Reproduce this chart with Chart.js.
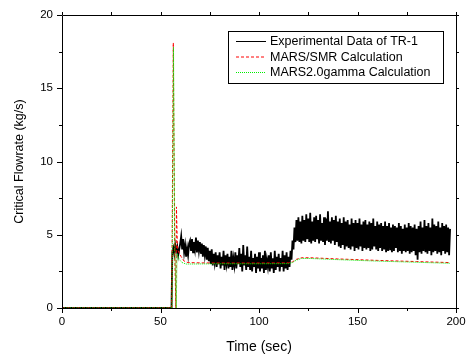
<!DOCTYPE html>
<html>
<head>
<meta charset="utf-8">
<title>Critical Flowrate</title>
<script src="https://cdn.jsdelivr.net/npm/chart.js"></script>
<style>
  body { margin: 0; background: #fff; }
  #wrap { width: 467px; height: 358px; }
</style>
</head>
<body>
<div id="wrap"><canvas id="grafico" width="467" height="358"></canvas></div>
<script>
// assi
var xTicks = [0, 50, 100, 150, 200];
var xMinor = [25, 75, 125, 175];
var yTicks = [0, 5, 10, 15, 20];
var yMinor = [2.5, 7.5, 12.5, 17.5];
var seriesNames = ["Experimental Data of TR-1", "MARS/SMR Calculation", "MARS2.0gamma Calculation"];

// dati sperimentali: zero prima dell'apertura, poi un campione ogni 0.5 s
var expLeadTime = [0, 55.6];
var expLeadFlow = [0, 0];
var expStart = 56;
var expStep = 0.5;
var expFlow = [
  3.8, 4.1, 3.7, 4.3, 3.9, 4.2, 3.6, 4.0,
  4.4, 4.9, 4.0, 4.7, 3.8, 4.3, 3.5, 4.1, 3.6, 4.4,
  4.6, 3.9, 4.7, 3.8, 4.5, 4.0, 4.8, 3.8, 4.6, 3.9,
  4.5, 3.7, 4.4, 3.5, 4.3, 3.6, 4.2, 3.3, 4.1, 3.2,
  3.9, 3.0, 4.0, 2.9, 3.7, 3.1, 3.8, 2.8, 3.6, 3.0,
  3.8, 2.7, 3.5, 2.9, 3.9, 2.6, 3.6, 3.0, 3.7, 2.7,
  3.5, 2.8, 3.9, 2.6, 3.4, 2.9, 3.8, 2.7, 3.6, 3.0,
  4.1, 2.8, 3.7, 2.5, 4.3, 2.9, 3.6, 2.6, 4.2, 2.8,
  3.5, 2.6, 3.9, 2.5, 3.4, 2.8, 3.7, 2.4, 3.5, 2.7,
  3.8, 2.5, 3.4, 2.7, 3.6, 2.4, 3.9, 2.6, 3.3, 2.8,
  3.6, 2.5, 3.8, 2.7, 3.4, 2.4, 3.9, 2.6, 3.5, 2.8,
  3.7, 2.5, 3.4, 2.8, 3.9, 2.5, 3.6, 2.7, 3.8, 2.6,
  3.5, 2.8, 3.9, 3.3, 4.6, 4.0, 5.5, 4.5, 6.0, 4.6,
  6.2, 4.5, 5.9, 4.4, 6.3, 4.6, 6.0, 4.5, 6.4, 4.7,
  6.1, 4.5, 6.5, 4.4, 5.9, 4.6, 6.2, 4.5, 6.3, 4.7,
  6.0, 4.4, 6.4, 4.6, 5.8, 4.5, 6.2, 4.3, 6.1, 4.6,
  6.6, 4.5, 5.9, 4.4, 6.2, 4.6, 6.0, 4.3, 6.3, 4.5,
  5.9, 4.2, 6.1, 4.1, 5.8, 4.3, 6.2, 4.0, 5.9, 4.2,
  6.0, 4.1, 5.7, 4.0, 6.1, 4.2, 5.8, 3.9, 6.0, 4.1,
  5.8, 4.0, 6.1, 4.2, 5.7, 3.9, 5.9, 4.1, 6.0, 4.0,
  5.7, 4.1, 5.9, 3.9, 5.8, 4.0, 6.1, 4.2, 5.6, 4.0,
  5.9, 3.9, 5.7, 4.1, 5.8, 3.9, 5.6, 4.0, 5.9, 3.8,
  5.6, 3.9, 5.8, 4.0, 5.5, 3.8, 5.7, 3.9, 5.6, 4.1,
  5.5, 3.8, 5.8, 3.9, 5.6, 3.7, 5.4, 3.9, 5.7, 3.8,
  5.5, 3.9, 5.8, 3.7, 5.6, 3.8, 5.5, 3.9, 5.7, 3.6,
  5.4, 3.3, 5.6, 3.8, 5.9, 3.7, 5.5, 3.9, 6.0, 3.8,
  5.6, 3.7, 5.8, 3.9, 5.5, 3.6, 6.1, 3.8, 5.7, 3.9,
  5.6, 3.7, 5.9, 3.8, 5.5, 3.6, 5.8, 3.9, 5.6, 3.7,
  5.7, 3.8, 5.5, 3.6, 5.4
];

// MARS/SMR
var smrTime = [0, 55.7, 56.5, 57.2, 57.8, 58.1, 58.6, 59, 60.5, 62, 64, 70, 80, 100, 115, 117, 119, 121.5, 126, 140, 160, 180, 197];
var smrFlow = [0, 0, 18.1, 4.0, 0, 6.9, 4.0, 3.9, 3.5, 3.2, 3.1, 3.08, 3.07, 3.07, 3.08, 3.15, 3.32, 3.43, 3.43, 3.35, 3.25, 3.17, 3.1];

// MARS2.0gamma
var gammaTime = [0, 55.8, 56.6, 57.3, 58.0, 58.4, 59.5, 61, 63, 80, 100, 115, 117, 119, 121.5, 126, 140, 160, 180, 197];
var gammaFlow = [0, 0, 17.8, 3.9, 0, 3.7, 3.3, 3.1, 3.0, 3.02, 3.02, 3.03, 3.1, 3.27, 3.38, 3.38, 3.3, 3.2, 3.12, 3.05];

function punti(tempi, valori) {
  return tempi.map(function (t, i) { return { x: t, y: valori[i] }; });
}

var expPunti = punti(expLeadTime, expLeadFlow).concat(
  expFlow.map(function (v, i) { return { x: expStart + i * expStep, y: v }; })
);

var stili = [
  { color: '#000000', dash: [] },
  { color: '#ff0000', dash: [3, 2] },
  { color: '#00ee00', dash: [1, 1] }
];

// cornice e tacche esterne su tutti e quattro i lati
var cornice = {
  id: 'cornice',
  afterDatasetsDraw: function (chart) {
    var ctx = chart.ctx, a = chart.chartArea, sx = chart.scales.x, sy = chart.scales.y;
    ctx.save();
    ctx.strokeStyle = '#000';
    ctx.lineWidth = 1;
    ctx.beginPath();
    ctx.rect(Math.round(a.left) + 0.5, Math.round(a.top) + 0.5, Math.round(a.right - a.left), Math.round(a.bottom - a.top));
    function tacca(x1, y1, x2, y2) { ctx.moveTo(x1, y1); ctx.lineTo(x2, y2); }
    xTicks.forEach(function (v) {
      var p = Math.round(sx.getPixelForValue(v)) + 0.5;
      tacca(p, a.bottom, p, a.bottom + 5);
      tacca(p, a.top, p, a.top - 3);
    });
    xMinor.forEach(function (v) {
      var p = Math.round(sx.getPixelForValue(v)) + 0.5;
      tacca(p, a.bottom, p, a.bottom + 3);
      tacca(p, a.top, p, a.top - 3);
    });
    yTicks.forEach(function (v) {
      var p = Math.round(sy.getPixelForValue(v)) + 0.5;
      tacca(a.left, p, a.left - 5, p);
      tacca(a.right, p, a.right + 3, p);
    });
    yMinor.forEach(function (v) {
      var p = Math.round(sy.getPixelForValue(v)) + 0.5;
      tacca(a.left, p, a.left - 3, p);
      tacca(a.right, p, a.right + 3, p);
    });
    ctx.stroke();
    ctx.restore();
  }
};

// legenda con riquadro
var legenda = {
  id: 'legenda',
  afterDatasetsDraw: function (chart) {
    var ctx = chart.ctx;
    var bx = 228.5, by = 31.5, bw = 215, bh = 52;
    ctx.save();
    ctx.fillStyle = '#fff';
    ctx.fillRect(bx, by, bw, bh);
    ctx.strokeStyle = '#000';
    ctx.lineWidth = 1;
    ctx.strokeRect(bx, by, bw, bh);
    ctx.font = '12.5px "Liberation Sans", Arial, sans-serif';
    ctx.textBaseline = 'middle';
    seriesNames.forEach(function (nome, i) {
      var y = 41.5 + i * 15.5;
      ctx.beginPath();
      ctx.strokeStyle = stili[i].color;
      ctx.setLineDash(stili[i].dash);
      ctx.moveTo(236, y);
      ctx.lineTo(266, y);
      ctx.stroke();
      ctx.setLineDash([]);
      ctx.fillStyle = '#000';
      ctx.fillText(nome, 270, y + 0.5);
    });
    ctx.restore();
  }
};

var fontTick = { family: '"Liberation Sans", Arial, sans-serif', size: 11.5 };

new Chart(document.getElementById('grafico'), {
  type: 'line',
  data: {
    datasets: [
      { label: seriesNames[0], data: expPunti, borderColor: stili[0].color, borderWidth: 1.8, borderDash: stili[0].dash, pointRadius: 0, tension: 0, order: 3 },
      { label: seriesNames[1], data: punti(smrTime, smrFlow), borderColor: stili[1].color, borderWidth: 1, borderDash: stili[1].dash, pointRadius: 0, tension: 0, order: 2 },
      { label: seriesNames[2], data: punti(gammaTime, gammaFlow), borderColor: stili[2].color, borderWidth: 1, borderDash: stili[2].dash, pointRadius: 0, tension: 0, order: 1 }
    ]
  },
  options: {
    responsive: false,
    animation: false,
    devicePixelRatio: 1,
    layout: { padding: { left: 0, top: 15, right: 11, bottom: 0 } },
    plugins: { legend: { display: false }, tooltip: { enabled: false } },
    scales: {
      x: {
        type: 'linear', min: 0, max: 200,
        afterFit: function (s) { s.height = 50; s.paddingLeft = 0; s.paddingRight = 0; },
        afterBuildTicks: function (s) { s.ticks = xTicks.map(function (v) { return { value: v }; }); },
        grid: { display: false, drawTicks: false },
        border: { display: false },
        ticks: { color: '#000', font: fontTick, padding: 7, maxRotation: 0 },
        title: { display: true, text: 'Time (sec)', color: '#000', font: { family: '"Liberation Sans", Arial, sans-serif', size: 14 }, padding: { top: 0, bottom: 2 } }
      },
      y: {
        type: 'linear', min: 0, max: 20,
        afterFit: function (s) { s.width = 62; s.paddingTop = 0; s.paddingBottom = 0; },
        afterBuildTicks: function (s) { s.ticks = yTicks.map(function (v) { return { value: v }; }); },
        grid: { display: false, drawTicks: false },
        border: { display: false },
        ticks: { color: '#000', font: fontTick, padding: 9 },
        title: { display: true, text: 'Critical Flowrate (kg/s)', color: '#000', font: { family: '"Liberation Sans", Arial, sans-serif', size: 12.5 }, padding: { top: 12, bottom: 0 } }
      }
    }
  },
  plugins: [cornice, legenda]
});
</script>
</body>
</html>
